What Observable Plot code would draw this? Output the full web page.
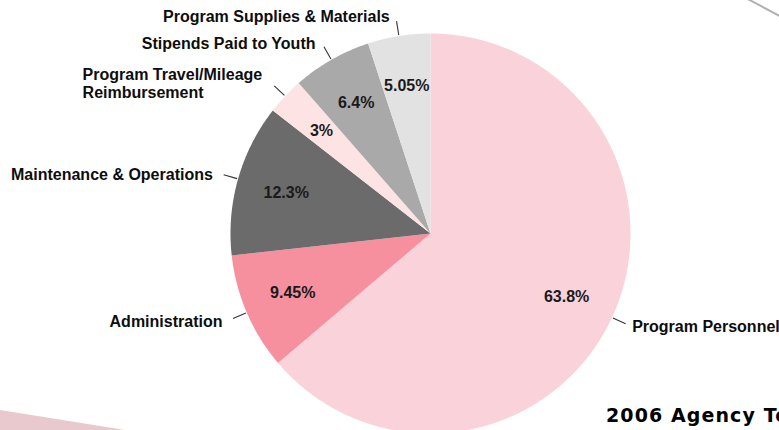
<!DOCTYPE html>
<html>
<head>
<meta charset="utf-8">
<script src="https://cdn.jsdelivr.net/npm/d3@7"></script>
<script src="https://cdn.jsdelivr.net/npm/@observablehq/plot@0.6"></script>
<style>
  html, body { margin: 0; padding: 0; background: #fff; overflow: hidden; }
  #wrap { position: relative; width: 779px; height: 430px; overflow: hidden; }
  #deco-tri { position: absolute; left: 0; top: 0; width: 779px; height: 430px; background: #e9c9cd;
    clip-path: polygon(0px 410px, 125px 430px, 0px 430px); }
  #deco-line { position: absolute; left: 748px; top: -2px; width: 36px; height: 2px; background: #b0b0b0;
    transform-origin: 0 0; transform: rotate(28deg); }
  #caption { position: absolute; left: 606px; top: 405px; font-family: "DejaVu Sans", sans-serif;
    font-weight: 700; font-size: 19px; letter-spacing: 1.1px; line-height: 21px; color: #000; white-space: nowrap; }
</style>
</head>
<body>
<div id="wrap">
  <div id="deco-tri"></div>
  <div id="deco-line"></div>
  <div id="chart"></div>
  <div id="caption">2006 Agency Total</div>
</div>
<script>
const categories = ["Program Personnel", "Administration", "Maintenance & Operations",
  "Program Travel/Mileage\nReimbursement", "Stipends Paid to Youth", "Program Supplies & Materials"];
const values = [63.8, 9.45, 12.3, 3, 6.4, 5.05];
const valueLabels = ["63.8%", "9.45%", "12.3%", "3%", "6.4%", "5.05%"];
const colors = ["#fad3da", "#f6909f", "#6b6b6b", "#fde3e3", "#a9a9a9", "#e2e2e2"];

const rows = categories.map((name, i) => ({name, value: values[i], label: valueLabels[i]}));
const arcs = d3.pie().sort(null).value(d => d.value)(rows);

// slice outlines in unit-circle coordinates (angle clockwise from 12 o'clock)
const outline = [];
arcs.forEach(a => {
  const name = a.data.name;
  outline.push({name, x: 0, y: 0});
  const n = Math.max(2, Math.ceil((a.endAngle - a.startAngle) / (Math.PI / 360)));
  for (let k = 0; k <= n; k++) {
    const t = a.startAngle + (a.endAngle - a.startAngle) * k / n;
    outline.push({name, x: Math.sin(t), y: Math.cos(t)});
  }
  outline.push({name, x: 0, y: 0});
});

const mid = a => (a.startAngle + a.endAngle) / 2;
const at = (a, r) => ({x: r * Math.sin(mid(a)), y: r * Math.cos(mid(a))});
const inner = arcs.map(a => ({...at(a, 0.75), label: a.data.label}));
const leaders = arcs.map(a => {
  const p = at(a, 1.005), q = at(a, 1.075);
  return {x1: p.x, y1: p.y, x2: q.x, y2: q.y};
});
const outer = arcs.map(a => ({...at(a, 1.1), name: a.data.name, side: Math.sin(mid(a)) >= 0 ? "start" : "end"}));
const travelIdx = 3;

const font = "'Liberation Sans', Arial, sans-serif";
const fs = 16;
const chart = Plot.plot({
  width: 779, height: 430,
  margin: 0,
  style: {background: "transparent", overflow: "visible"},
  x: {domain: [-1, 1], range: [230, 630], axis: null},
  y: {domain: [-1, 1], range: [433, 33], axis: null},
  color: {domain: categories, range: colors},
  marks: [
    Plot.line(outline, {x: "x", y: "y", z: "name", fill: "name", stroke: "none"}),
    Plot.link(leaders, {x1: "x1", y1: "y1", x2: "x2", y2: "y2", stroke: "#333", strokeWidth: 1.1}),
    Plot.text(inner, {x: "x", y: "y", text: "label", fill: "#1a1a1a", fontSize: fs, fontWeight: 700, fontFamily: font}),
    Plot.text(outer.filter((d, i) => i !== travelIdx && d.side === "start"), {x: "x", y: "y", text: "name", textAnchor: "start", dx: 2, dy: 1, fill: "#0d0d0d", fontSize: fs, fontWeight: 700, fontFamily: font}),
    Plot.text(outer.filter((d, i) => i !== travelIdx && d.side === "end"), {x: "x", y: "y", text: "name", textAnchor: "end", dx: -6, dy: 1, fill: "#0d0d0d", fontSize: fs, fontWeight: 700, fontFamily: font}),
    Plot.text(outer.filter((d, i) => i === travelIdx), {x: "x", y: "y", text: "name", textAnchor: "start", dx: -188, dy: 1, lineHeight: 1.1, fill: "#0d0d0d", fontSize: fs, fontWeight: 700, fontFamily: font})
  ]
});
document.getElementById("chart").appendChild(chart);
</script>
</body>
</html>
